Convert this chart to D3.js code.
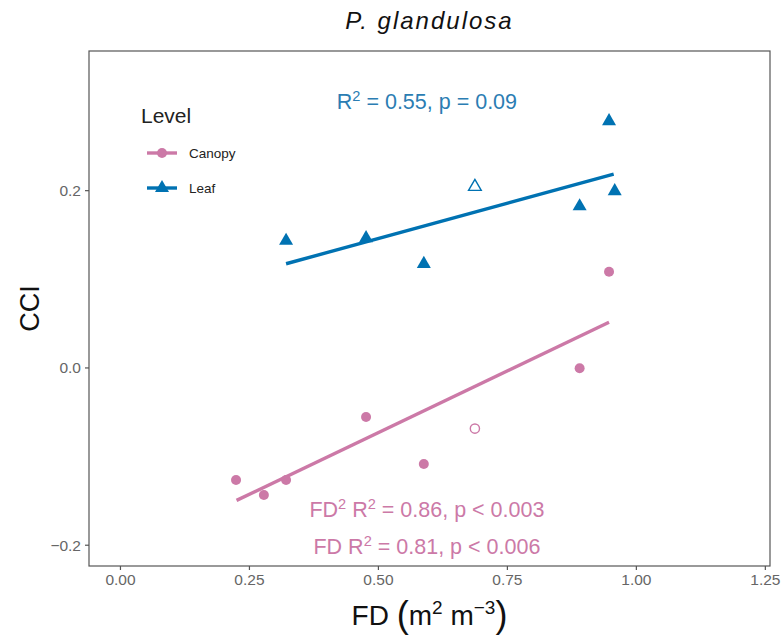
<!DOCTYPE html>
<html>
<head>
<meta charset="utf-8">
<script src="https://cdn.jsdelivr.net/npm/d3@7"></script>
<style>
  body { margin: 0; background: #fff; }
  svg { font-family: "Liberation Sans", Arial, Helvetica, sans-serif; }
</style>
</head>
<body>
<div id="chart"></div>
<script>
// ---- data ----
const canopyFD  = [0.225, 0.279, 0.322, 0.477, 0.589, 0.688, 0.891, 0.948];
const canopyCCI = [-0.127, -0.144, -0.127, -0.056, -0.109, -0.069, -0.001, 0.108];
const canopyOpen = [false, false, false, false, false, true, false, false];

const leafFD  = [0.322, 0.477, 0.589, 0.688, 0.891, 0.948, 0.959];
const leafCCI = [0.144, 0.147, 0.118, 0.205, 0.183, 0.279, 0.200];
const leafOpen = [false, false, false, true, false, false, false];

// fitted lines (start / end) as drawn
const canopyFitFD  = [0.226, 0.948];
const canopyFitCCI = [-0.150, 0.051];
const leafFitFD  = [0.322, 0.957];
const leafFitCCI = [0.117, 0.218];

const xTicks = [0, 0.25, 0.5, 0.75, 1.0, 1.25];
const yTicks = [-0.2, 0, 0.2];
const levels = ["Canopy", "Leaf"];

const colCanopy = "#CC79A7";
const colLeaf = "#0072B2";

// ---- layout ----
const W = 782, H = 635;
const panel = { left: 89, right: 770, top: 51, bottom: 566 };

const svg = d3.select("#chart").append("svg")
    .attr("width", W).attr("height", H);

const x = d3.scaleLinear().domain([-0.06, 1.26]).range([panel.left, panel.right]);
const y = d3.scaleLinear().domain([-0.224, 0.357]).range([panel.bottom, panel.top]);

// panel background + border
svg.append("rect")
    .attr("x", panel.left).attr("y", panel.top)
    .attr("width", panel.right - panel.left)
    .attr("height", panel.bottom - panel.top)
    .attr("fill", "#fff")
    .attr("stroke", "#555")
    .attr("stroke-width", 1.2);

// axes
const xAxis = svg.append("g")
    .attr("transform", `translate(0,${panel.bottom})`)
    .call(d3.axisBottom(x).tickValues(xTicks).tickFormat(d3.format(".2f")).tickSize(4).tickPadding(4));
const yAxis = svg.append("g")
    .attr("transform", `translate(${panel.left},0)`)
    .call(d3.axisLeft(y).tickValues(yTicks).tickFormat(d => d === 0 ? "0.0" : d3.format(".1f")(d)).tickSize(4).tickPadding(4));

[xAxis, yAxis].forEach(a => {
    a.select(".domain").remove();
    a.selectAll(".tick line").attr("stroke", "#555").attr("stroke-width", 1.2);
    a.selectAll(".tick text")
        .attr("fill", "#666")
        .style("font-size", "15.5px")
        .style("font-family", "Liberation Sans, Arial, sans-serif");
});
yAxis.selectAll(".tick text").attr("dy", "0.35em");

// fit lines
function drawFit(fd, cci, col) {
    svg.append("line")
        .attr("x1", x(fd[0])).attr("y1", y(cci[0]))
        .attr("x2", x(fd[1])).attr("y2", y(cci[1]))
        .attr("stroke", col)
        .attr("stroke-width", 3.4);
}
drawFit(leafFitFD, leafFitCCI, colLeaf);
drawFit(canopyFitFD, canopyFitCCI, colCanopy);

// points
const tri = d3.symbol().type(d3.symbolTriangle).size(85);
const triOpen = d3.symbol().type(d3.symbolTriangle).size(70);

canopyFD.forEach((fd, i) => {
    const open = canopyOpen[i];
    svg.append("circle")
        .attr("cx", x(fd)).attr("cy", y(canopyCCI[i]))
        .attr("r", open ? 4.6 : 5)
        .attr("fill", open ? "#fff" : colCanopy)
        .attr("stroke", colCanopy)
        .attr("stroke-width", open ? 1.4 : 0);
});

leafFD.forEach((fd, i) => {
    const open = leafOpen[i];
    svg.append("path")
        .attr("d", open ? triOpen() : tri())
        .attr("transform", `translate(${x(fd)},${y(leafCCI[i]) + 1})`)
        .attr("fill", open ? "#fff" : colLeaf)
        .attr("stroke", colLeaf)
        .attr("stroke-width", open ? 1.4 : 0);
});

// annotations
function supText(g, parts, cx, cy, size, col) {
    const t = g.append("text")
        .attr("x", cx).attr("y", cy)
        .attr("text-anchor", "middle")
        .attr("fill", col)
        .style("font-size", size + "px");
    parts.forEach(p => {
        if (p.sup) {
            t.append("tspan").attr("dy", -size * 0.38).style("font-size", (size * 0.68) + "px").text(p.t);
        } else {
            t.append("tspan").attr("dy", p.after ? size * 0.38 : 0).text(p.t);
        }
    });
    return t;
}

supText(svg, [{ t: "R" }, { t: "2", sup: true }, { t: " = 0.55, p = 0.09", after: true }],
    x(0.595), 109, 21.5, "#2b7db3");
supText(svg, [{ t: "FD" }, { t: "2", sup: true }, { t: " R", after: true }, { t: "2", sup: true }, { t: " = 0.86, p < 0.003", after: true }],
    x(0.595), 517, 21.5, colCanopy);
supText(svg, [{ t: "FD R" }, { t: "2", sup: true }, { t: " = 0.81, p < 0.006", after: true }],
    x(0.595), 554, 21.5, colCanopy);

// legend
const legend = svg.append("g");
legend.append("text")
    .attr("x", 141).attr("y", 123)
    .attr("fill", "#222")
    .style("font-size", "21px")
    .text("Level");

const legendCols = [colCanopy, colLeaf];
levels.forEach((lv, i) => {
    const ly = 153 + i * 35;
    legend.append("line")
        .attr("x1", 147).attr("x2", 177)
        .attr("y1", ly).attr("y2", ly)
        .attr("stroke", legendCols[i])
        .attr("stroke-width", 3.4);
    if (i === 0) {
        legend.append("circle").attr("cx", 162).attr("cy", ly).attr("r", 5).attr("fill", legendCols[i]);
    } else {
        legend.append("path").attr("d", tri()).attr("transform", `translate(162,${ly})`).attr("fill", legendCols[i]);
    }
    legend.append("text")
        .attr("x", 189).attr("y", ly + 5)
        .attr("fill", "#222")
        .style("font-size", "13.5px")
        .text(lv);
});

// title
svg.append("text")
    .attr("x", (panel.left + panel.right) / 2).attr("y", 29)
    .attr("text-anchor", "middle")
    .attr("fill", "#111")
    .style("font-size", "24px")
    .style("font-style", "italic")
    .style("letter-spacing", "2px")
    .text("P. glandulosa");

// axis titles
svg.append("text")
    .attr("transform", `translate(39,${(panel.top + panel.bottom) / 2}) rotate(-90)`)
    .attr("text-anchor", "middle")
    .attr("fill", "#111")
    .style("font-size", "27px")
    .text("CCI");

const xt = svg.append("text")
    .attr("x", (panel.left + panel.right) / 2).attr("y", 625)
    .attr("text-anchor", "middle")
    .attr("fill", "#111")
    .style("font-size", "28px");
xt.append("tspan").text("FD ");
xt.append("tspan").style("font-size", "36px").attr("dy", 2).text("(");
xt.append("tspan").attr("dy", -2).text("m");
xt.append("tspan").attr("dy", -11).style("font-size", "19px").text("2");
xt.append("tspan").attr("dy", 11).text(" m");
xt.append("tspan").attr("dy", -11).style("font-size", "19px").text("−3");
xt.append("tspan").attr("dy", 13).style("font-size", "36px").text(")");
</script>
</body>
</html>
